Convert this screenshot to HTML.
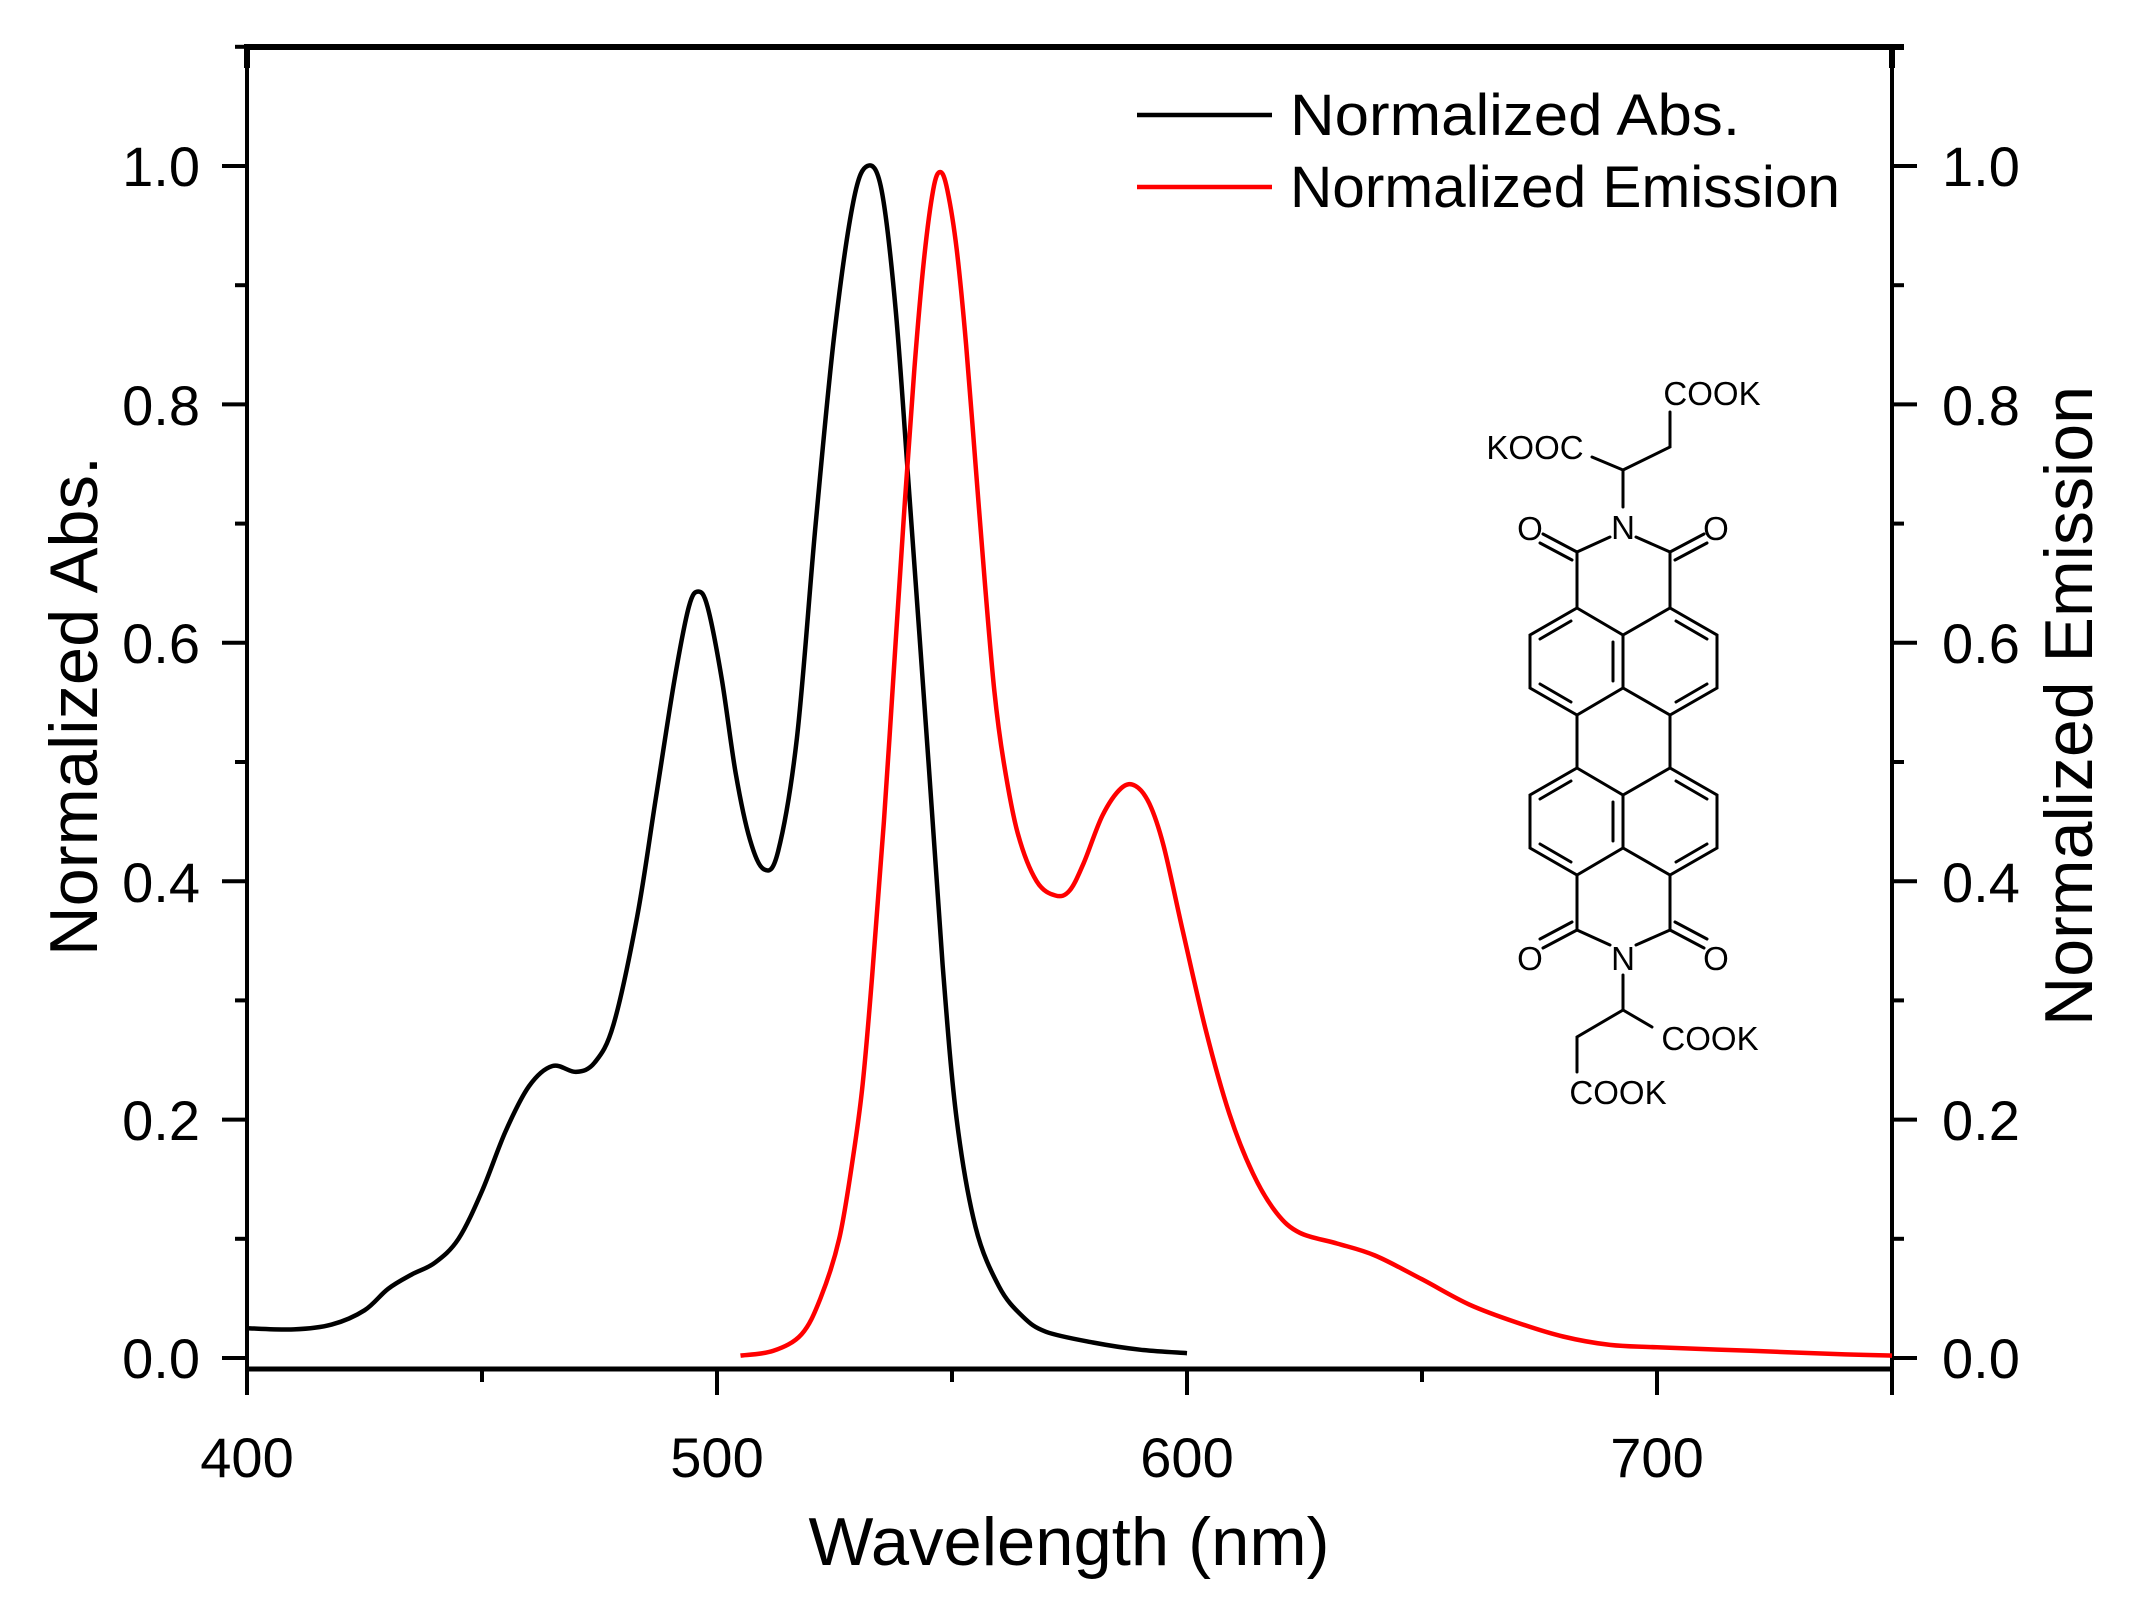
<!DOCTYPE html>
<html><head><meta charset="utf-8"><style>
html,body{margin:0;padding:0;background:#fff;}
svg{display:block;}
text{font-family:"Liberation Sans",Arial,sans-serif;fill:#000;}
</style></head><body>
<svg id="s" width="2148" height="1612" viewBox="0 0 2148 1612" xmlns="http://www.w3.org/2000/svg">
<rect width="2148" height="1612" fill="#fff"/>
<g id="axes" stroke="#000" fill="none"></g>
<g font-size="56">
<text x="200" y="186" text-anchor="end">1.0</text>
<text x="200" y="425" text-anchor="end">0.8</text>
<text x="200" y="663" text-anchor="end">0.6</text>
<text x="200" y="902" text-anchor="end">0.4</text>
<text x="200" y="1140" text-anchor="end">0.2</text>
<text x="200" y="1378" text-anchor="end">0.0</text>
<text x="1942" y="186">1.0</text>
<text x="1942" y="425">0.8</text>
<text x="1942" y="663">0.6</text>
<text x="1942" y="902">0.4</text>
<text x="1942" y="1140">0.2</text>
<text x="1942" y="1378">0.0</text>
<text x="247" y="1477" text-anchor="middle">400</text>
<text x="717" y="1477" text-anchor="middle">500</text>
<text x="1187" y="1477" text-anchor="middle">600</text>
<text x="1657" y="1477" text-anchor="middle">700</text>
</g>
<text x="1069" y="1565" font-size="68" text-anchor="middle" textLength="521" lengthAdjust="spacingAndGlyphs">Wavelength (nm)</text>
<text transform="translate(97,706) rotate(-90)" font-size="68" text-anchor="middle" textLength="500" lengthAdjust="spacingAndGlyphs">Normalized Abs.</text>
<text transform="translate(2092,706) rotate(-90)" font-size="68" text-anchor="middle" textLength="640" lengthAdjust="spacingAndGlyphs">Normalized Emission</text>
<line x1="1137" y1="115" x2="1272" y2="115" stroke="#000" stroke-width="4.5"/>
<line x1="1137" y1="187" x2="1272" y2="187" stroke="#f00" stroke-width="4.5"/>
<text x="1290" y="135" font-size="58" textLength="450" lengthAdjust="spacingAndGlyphs">Normalized Abs.</text>
<text x="1290" y="207" font-size="58" textLength="550" lengthAdjust="spacingAndGlyphs">Normalized Emission</text>
<path id="abs" fill="none" stroke="#000" stroke-width="4.5" stroke-linejoin="round"/>
<path id="em" fill="none" stroke="#f00" stroke-width="4.5" stroke-linejoin="round"/>
<g stroke="#000" stroke-width="3" fill="none" stroke-linecap="round">
<path d="M1623,470 L1592,457 M1623,470 L1670,447 L1670,412"/>
<path d="M1623,470 L1623,507"/>
<path d="M1610,537 L1577,552 L1577,608 M1636,537 L1670,552 L1670,608"/>
<path d="M1577,552 L1543,534 M1572,560 L1540,543 M1670,552 L1704,534 M1675,560 L1707,543"/>
<path d="M1577,608 L1623,635 L1670,608 L1717,635 L1717,688 L1670,715 L1623,688 L1577,715 L1530,688 L1530,635 Z M1623,635 L1623,688"/>
<path d="M1571,621 L1540,639 M1613,642 L1613,681 M1540,684 L1571,702 M1676,621 L1707,639 M1707,684 L1676,702"/>
<path d="M1577,715 L1577,768 M1670,715 L1670,768"/>
<path d="M1577,768 L1623,795 L1670,768 L1717,795 L1717,848 L1670,875 L1623,848 L1577,875 L1530,848 L1530,795 Z M1623,795 L1623,848"/>
<path d="M1571,781 L1540,799 M1613,802 L1613,841 M1540,844 L1571,862 M1676,781 L1707,799 M1707,844 L1676,862"/>
<path d="M1577,875 L1577,930 L1610,945 M1670,875 L1670,930 L1636,945"/>
<path d="M1577,930 L1543,948 M1572,922 L1540,939 M1670,930 L1704,948 M1675,922 L1707,939"/>
<path d="M1623,975 L1623,1010 L1577,1037 L1577,1072 M1623,1010 L1652,1027"/>
</g>
<g font-size="33">
<text x="1712" y="405" text-anchor="middle">COOK</text>
<text x="1535" y="459" text-anchor="middle">KOOC</text>
<text x="1623" y="539" text-anchor="middle">N</text>
<text x="1530" y="540" text-anchor="middle">O</text>
<text x="1716" y="540" text-anchor="middle">O</text>
<text x="1623" y="970" text-anchor="middle">N</text>
<text x="1530" y="970" text-anchor="middle">O</text>
<text x="1716" y="970" text-anchor="middle">O</text>
<text x="1710" y="1050" text-anchor="middle">COOK</text>
<text x="1618" y="1104" text-anchor="middle">COOK</text>
</g>
</svg>
<script>
var X=function(w){return 247+(w-400)*4.7;},Y=function(v){return 1358-v*1192;};
var ax=document.getElementById('axes'),h='';
function L(a,b,c,d,w){h+='<line x1="'+a+'" y1="'+b+'" x2="'+c+'" y2="'+d+'" stroke-width="'+w+'"/>';}
L(244,47,1904,47,6);L(247,47,247,68,6);L(1892,47,1892,68,6);
L(247,68,247,1395,4);L(1892,68,1892,1395,4);L(247,1369,1892,1369,5);
for(var i=0;i<=11;i++){var y=Y(i*0.1);var maj=i%2==0;
 L(maj?222:235,y,247,y,4);L(1892,y,maj?1917:1904,y,4);}
for(var w=400;w<=750;w+=50){var x=X(w);var maj=w%100==0;L(x,1369,x,maj?1395:1382,4);}
ax.innerHTML=h;
function path(pts){var p=pts.map(function(q){return [X(q[0]),Y(q[1])];});
 var d='M'+p[0][0].toFixed(1)+','+p[0][1].toFixed(1);
 for(var i=0;i<p.length-1;i++){var p0=p[Math.max(0,i-1)],p1=p[i],p2=p[i+1],p3=p[Math.min(p.length-1,i+2)];
  var c1=[p1[0]+(p2[0]-p0[0])/6,p1[1]+(p2[1]-p0[1])/6],c2=[p2[0]-(p3[0]-p1[0])/6,p2[1]-(p3[1]-p1[1])/6];
  d+=' C'+c1[0].toFixed(1)+','+c1[1].toFixed(1)+' '+c2[0].toFixed(1)+','+c2[1].toFixed(1)+' '+p2[0].toFixed(1)+','+p2[1].toFixed(1);}
 return d;}
var A=[[400,.025],[410,.024],[418,.028],[425,.04],[430,.058],[435,.07],[440,.08],[445,.1],[450,.14],[455,.19],[460,.228],[465,.245],[470,.24],[474,.248],[478,.28],[483,.37],[487,.47],[491,.57],[494,.63],[496,.643],[498,.63],[501,.57],[504,.49],[507,.435],[510,.41],[513,.425],[517,.52],[521,.7],[525,.86],[529,.97],[532,1.0],[535,.98],[538,.88],[541,.72],[545,.5],[548,.33],[551,.2],[555,.11],[560,.06],[565,.035],[570,.022],[580,.013],[590,.007],[600,.004]];
var E=[[505,.002],[512,.006],[518,.02],[522,.05],[526,.1],[529,.17],[531,.23],[533,.32],[535.5,.45],[538,.6],[540,.72],[542,.83],[544,.92],[546,.98],[547.5,.995],[549,.98],[551,.93],[553,.85],[555,.75],[557,.65],[559,.56],[561,.5],[564,.44],[568,.4],[572,.388],[575,.392],[578,.415],[582,.455],[586,.478],[589,.48],[592,.465],[595,.43],[599,.36],[604,.275],[609,.205],[614,.155],[619,.122],[624,.105],[632,.096],[640,.086],[650,.066],[660,.045],[670,.03],[680,.018],[690,.011],[700,.009],[720,.006],[740,.003],[750,.002]];
document.getElementById('abs').setAttribute('d',path(A));
document.getElementById('em').setAttribute('d',path(E));
</script>
</body></html>
